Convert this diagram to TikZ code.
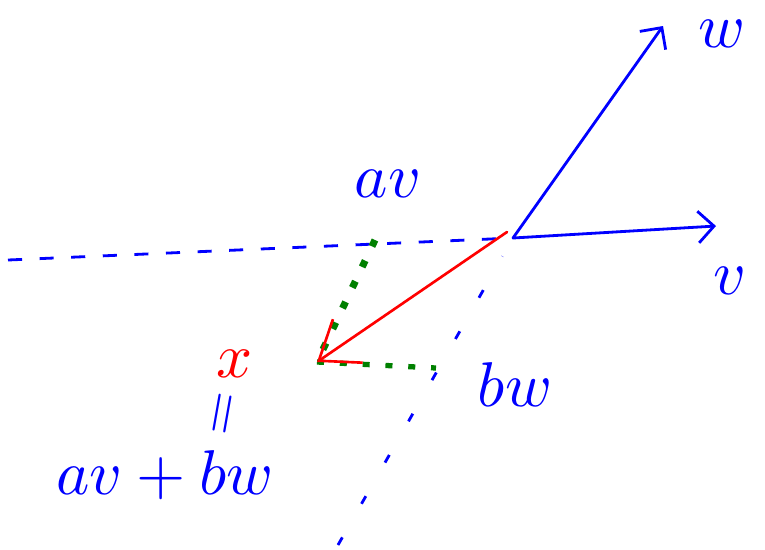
\documentclass[tikz,border=0pt]{standalone}
\usepackage{amsmath}
\usepackage{tikz}
\usetikzlibrary{arrows.meta, positioning, calc}

\begin{document}
\begin{tikzpicture}[
  x=0.02cm, y=-0.02cm,
  vec/.style={draw=blue, line width=1.6pt, line cap=round,
              -{Straight Barb[length=9pt, width=18pt, line width=1.6pt]}},
  back/.style={draw=blue, line width=1.6pt, dash pattern=on 8pt off 10pt},
  backsparse/.style={draw=blue, line width=1.6pt, dash pattern=on 5pt off 22pt},
  comp/.style={draw=green!50!black, line width=4pt, dash pattern=on 4pt off 9pt},
  res/.style={draw=red, line width=1.5pt, line cap=round,
              -{Straight Barb[length=20pt, width=30pt, line width=1.5pt]}},
  lbl/.style={text=blue, scale=3.6, inner sep=0pt, anchor=base},
  eqs/.style={text=blue, scale=3.2, inner sep=0pt, rotate=80}
]
  \useasboundingbox (0,0) rectangle (765,549);

  % points
  \coordinate (o)     at (513,238);
  \coordinate (vend)  at (716,226);
  \coordinate (wend)  at (663,26);
  \coordinate (vback) at (8,260);
  \coordinate (wback) at (338,545);
  \coordinate (av)    at (375,240);
  \coordinate (bw)    at (436,368);
  \coordinate (sum)   at (317,362);

  % vectors and their lines
  \draw[back] (vback) -- ($(o)!0.02!(vback)$);
  \draw[backsparse] (wback) -- ($(o)!0.06!(wback)$);
  \draw[vec] (o) -- (vend);
  \draw[vec] (o) -- (wend);

  % parallelogram
  \draw[comp] (av) -- (sum);
  \draw[comp, line width=3pt] (sum) -- (bw);
  \draw[res] (507,232) -- (sum);

  % labels
  \node (lw)   [lbl] at (722,47)  {$w$};
  \node (lv)   [lbl] at (730,294) {$v$};
  \node (lav)  [lbl] at (388,197) {$av$};
  \node (lbw)  [lbl] at (515,406) {$bw$};
  \node (lx)   [lbl, text=red] at (235,377) {$x$};
  \node (leq)  [eqs] at (226,414) {$=$};
  \node (lsum) [lbl] at (165,494) {$av+bw$};
\end{tikzpicture}
\end{document}
